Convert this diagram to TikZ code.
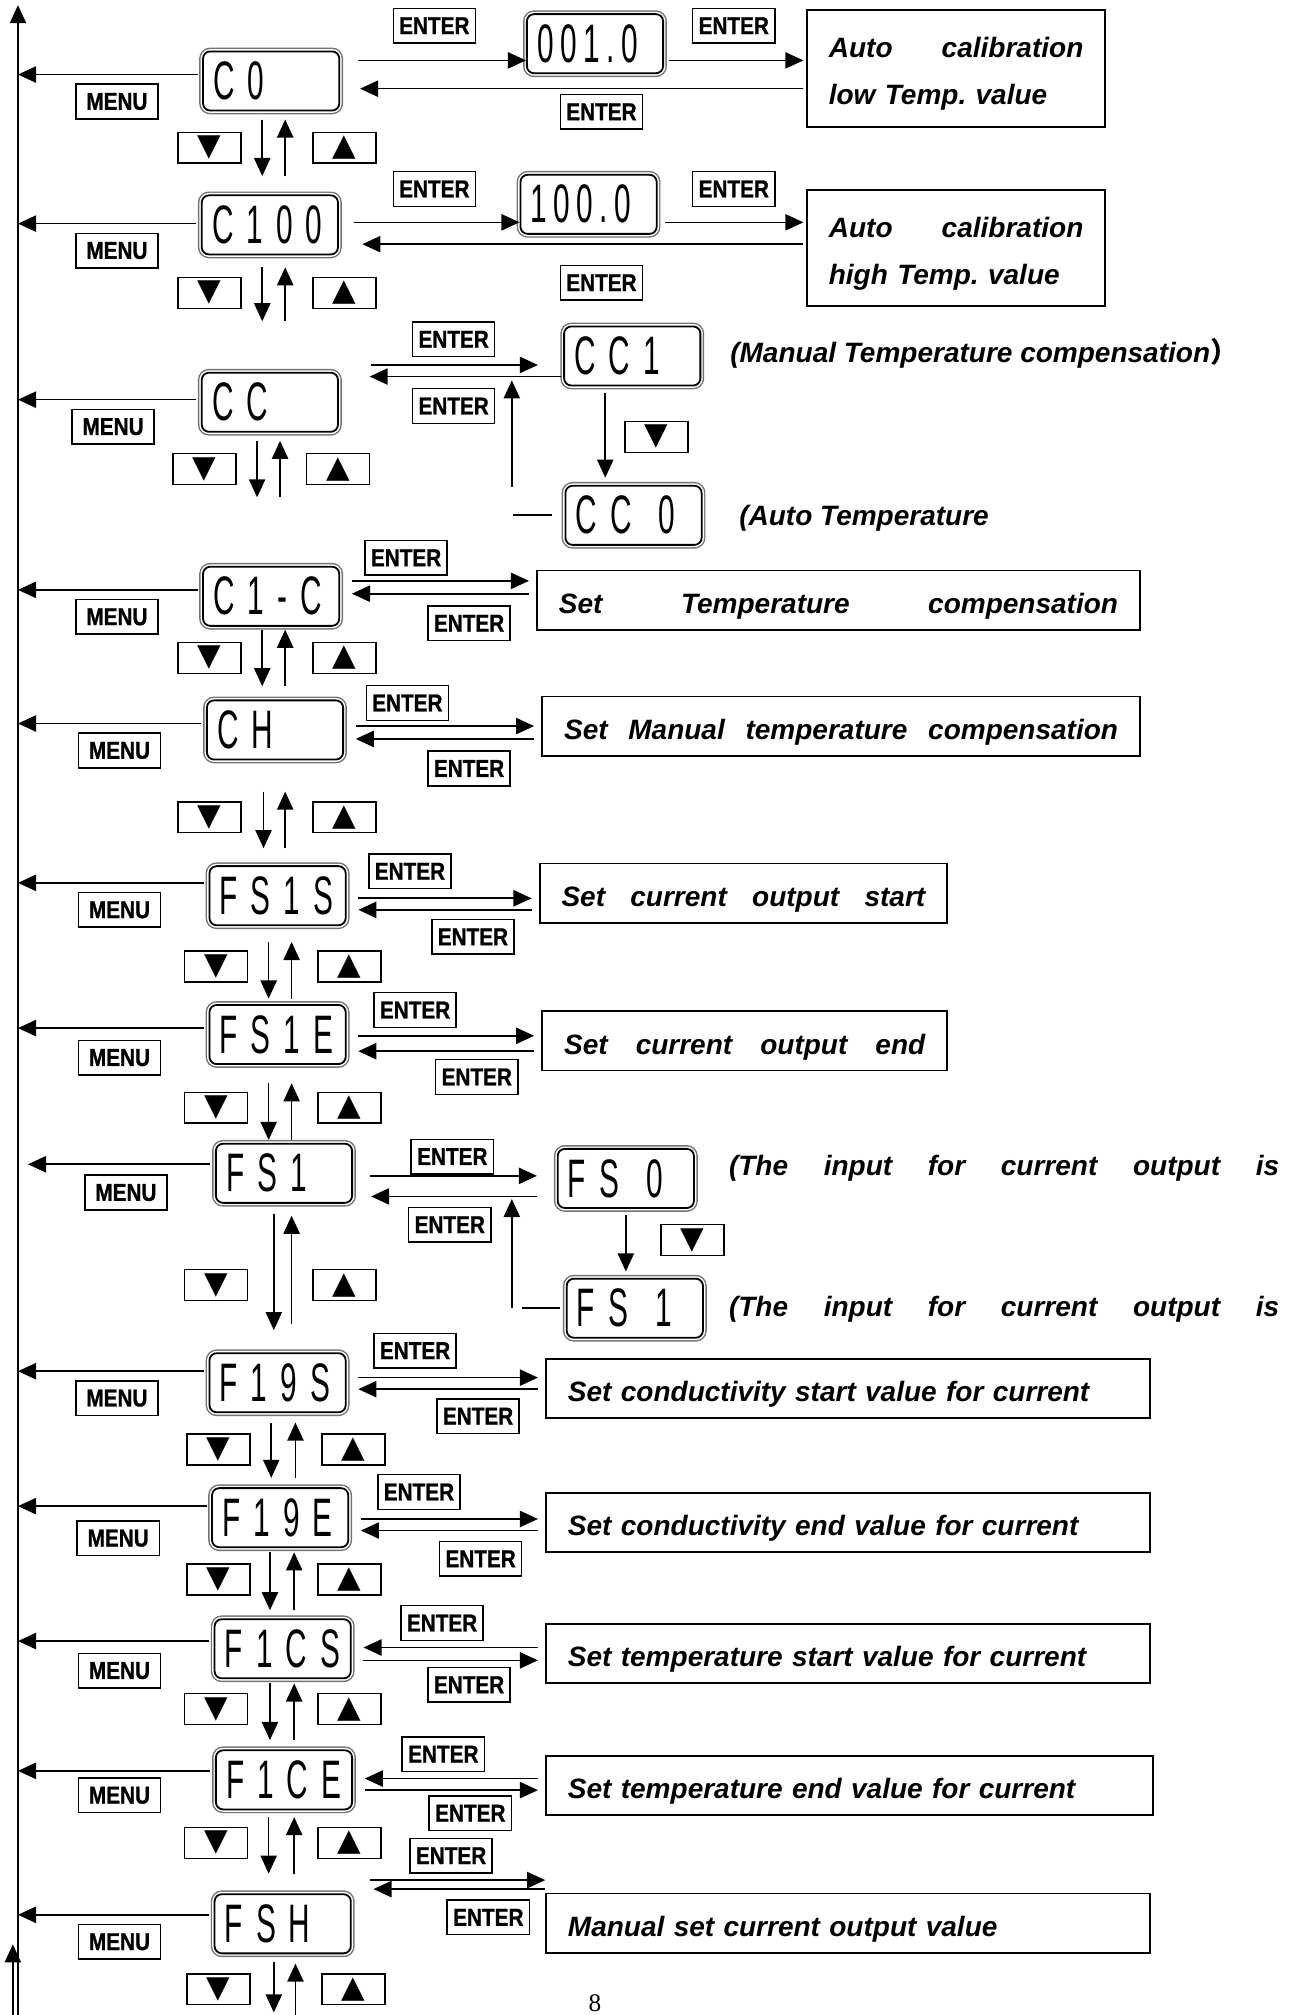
\documentclass[tikz,border=0pt]{standalone}
\usepackage{fontspec}
\usetikzlibrary{arrows.meta}
\newfontfamily\lcdfont[FakeStretch=0.55,LetterSpace=24]{Liberation Sans}
\newfontfamily\valfont[FakeStretch=0.55,LetterSpace=12]{Liberation Sans}
\newfontfamily\keyfont[FakeStretch=0.85,FakeBold=1]{Liberation Sans}
\newfontfamily\descfont{Liberation Sans}
\newfontfamily\symfont{DejaVu Sans}
\newfontfamily\cjkfont{Noto Sans CJK SC}
\newfontfamily\pagefont{Liberation Serif}
\newcommand\lift{\rule{0pt}{18pt}}

\begin{document}
\begin{tikzpicture}[x=0.025cm,y=-0.025cm,
  arr/.style={line width=0.9pt,-{Triangle[length=10pt,width=9pt]}},
  toright/.style={arr,shorten <=6.5pt,shorten >=4pt},
  toleft/.style={arr,shorten <=4pt,shorten >=6.5pt},
  tomenu/.style={arr,shorten <=2.5pt},
  lcdbox/.style={draw,line width=1pt,rounded corners=4pt,fill=white,
    preaction={draw=black!55,line width=4.2pt},
    preaction={draw=white,line width=2.6pt},
    minimum width=2.65cm,minimum height=1.15cm,text width=2.25cm,align=left,
    inner xsep=0.2cm,inner ysep=0pt,font=\lcdfont\fontsize{30}{30}\selectfont},
  keybox/.style={draw,line width=0.8pt,minimum width=1.6cm,minimum height=0.675cm,
    inner sep=0pt,font=\keyfont\bfseries\fontsize{13.5}{13.5}\selectfont},
  padbox/.style={draw,line width=0.8pt,minimum width=1.225cm,minimum height=0.6cm,
    inner sep=0pt,font=\symfont\fontsize{17}{17}\selectfont},
  descbox/.style={draw,line width=1pt,inner xsep=0.425cm,inner ysep=0pt,align=left,
    minimum height=1.15cm,font=\descfont\bfseries\itshape\fontsize{15.5}{26}\selectfont\frenchspacing},
  notetext/.style={anchor=west,inner sep=0pt,font=\descfont\bfseries\itshape\fontsize{15.5}{15.5}\selectfont}
]
\useasboundingbox (0,0) rectangle (1012,1568);
\coordinate (axis) at (14,4);
\draw[arr] (axis |- 0,1568) -- (axis);
\coordinate (foot) at (10,1568);
\draw[arr] (foot) -- ++(0,-55);

\node[lcdbox] (c0) at (211,63) {C0};
\node[keybox] (c0menu) at (91,79) {MENU};
\node[keybox] (c0in) at (338,20) {ENTER};
\node[lcdbox] (lo) at (463,34) {\valfont 001.0};
\node[keybox] (loin) at (571,20) {ENTER};
\node[keybox] (c0out) at (468,87) {ENTER};
\node[descbox,text width=4.95cm,minimum height=2.275cm] (lotxt) at (744,53)
  {\lift\hbox to 4.95cm{Auto\hfill calibration}\\low Temp. value};
\node[padbox] (c0dn) at (163,115) {▼};
\node[padbox] (c0up) at (268,115) {▲};
\draw[tomenu] (c0.west |- 0,58) -- (axis |- 0,58);
\draw[arr,shorten <=10pt] (c0.east |- 0,47) -- (lo.west |- 0,47);
\draw[arr,shorten <=2.5pt,shorten >=1.5pt] (lo.east |- 0,47) -- (lotxt.west |- 0,47);
\draw[arr,shorten <=1.5pt,shorten >=11pt] (lotxt.west |- 0,69) -- (c0.east |- 0,69);
\draw[arr] ([shift={(16,-22)}]c0dn.east) -- ++(0,44);
\draw[arr] ([shift={(-21,22)}]c0up.west) -- ++(0,-44);

\node[lcdbox] (c100) at (210,175) {C100};
\node[keybox] (c100menu) at (91,195) {MENU};
\node[keybox] (c100in) at (338,147) {ENTER};
\node[lcdbox] (hi) at (458,159) {\valfont 100.0};
\node[keybox] (hiin) at (571,147) {ENTER};
\node[keybox] (c100out) at (468,220) {ENTER};
\node[descbox,text width=4.95cm,minimum height=2.25cm] (hitxt) at (744,193)
  {\lift\hbox to 4.95cm{Auto\hfill calibration}\\high Temp. value};
\node[padbox] (c100dn) at (163,228) {▼};
\node[padbox] (c100up) at (268,228) {▲};
\draw[tomenu] (c100.west |- 0,174) -- (axis |- 0,174);
\draw[arr,shorten <=8.5pt] (c100.east |- 0,173) -- (hi.west |- 0,173);
\draw[arr,shorten <=4pt,shorten >=1.5pt] (hi.east |- 0,173) -- (hitxt.west |- 0,173);
\draw[arr,shorten <=1.5pt,shorten >=13pt] (hitxt.west |- 0,190) -- (c100.east |- 0,190);
\draw[arr] ([shift={(16,-20)}]c100dn.east) -- ++(0,42);
\draw[arr] ([shift={(-21,22)}]c100up.west) -- ++(0,-42);

\node[lcdbox] (cc) at (210,313) {CC};
\node[keybox] (ccmenu) at (88,332) {MENU};
\node[keybox] (ccin) at (353,264) {ENTER};
\node[keybox] (ccout) at (353,316) {ENTER};
\node[lcdbox] (cc1) at (492,277) {CC1};
\node[lcdbox] (cc0) at (493,401) {CC\enspace0};
\node[padbox] (cc1dn) at (511,340) {▼};
\node[notetext] (ccman) at (568,275) {(Manual Temperature compensation{\cjkfont ）}};
\node[notetext] (ccauto) at (575,403) {(Auto Temperature};
\node[padbox] (ccdn) at (159,365) {▼};
\node[padbox] (ccup) at (263,365) {▲};
\draw[tomenu] (cc.west |- 0,311) -- (axis |- 0,311);
\draw[arr,shorten <=18pt,shorten >=14pt] (cc.east |- 0,284) -- (cc1.west |- 0,284);
\draw[arr,shorten <=1pt,shorten >=17pt] (cc1.west |- 0,293) -- (cc.east |- 0,293);
\draw[arr,shorten <=3.5pt,shorten >=4pt] (cc1.south -| 471,0) -- (cc0.north -| 471,0);
\draw[line width=1pt] ([xshift=-7pt]cc0.west) -- ++(-30,0);
\draw[arr] ([shift={(-41,-22)}]cc0.west) -- ++(0,-83);
\draw[arr] ([shift={(16,-22)}]ccdn.east) -- ++(0,44);
\draw[arr] ([shift={(-20,22)}]ccup.west) -- ++(0,-44);

\node[lcdbox] (c1c) at (211,464) {C1-C};
\node[keybox] (c1cmenu) at (91,480) {MENU};
\node[keybox] (c1cin) at (316,434) {ENTER};
\node[keybox] (c1cout) at (365,485) {ENTER};
\node[descbox] (c1ctxt) at (652.5,467)
  {\lift\hbox to 10.875cm{Set\hfill Temperature\hfill compensation}};
\node[padbox] (c1cdn) at (163,512) {▼};
\node[padbox] (c1cup) at (268,512) {▲};
\draw[tomenu] (c1c.west |- 0,459) -- (axis |- 0,459);
\draw[toright] (c1c.east |- 0,452) -- (c1ctxt.west |- 0,452);
\draw[toleft] (c1ctxt.west |- 0,462) -- (c1c.east |- 0,462);
\draw[arr] ([shift={(16,-22)}]c1cdn.east) -- ++(0,44);
\draw[arr] ([shift={(-21,22)}]c1cup.west) -- ++(0,-44);

\node[lcdbox] (ch) at (214,568) {CH};
\node[keybox] (chmenu) at (93,584) {MENU};
\node[keybox] (chin) at (317,547) {ENTER};
\node[keybox] (chout) at (365,598) {ENTER};
\node[descbox] (chtxt) at (654.5,565)
  {\lift\hbox to 10.775cm{Set\hfill Manual\hfill temperature\hfill compensation}};
\node[padbox] (chdn) at (163,636) {▼};
\node[padbox] (chup) at (268,636) {▲};
\draw[tomenu] (ch.west |- 0,563) -- (axis |- 0,563);
\draw[toright] (ch.east |- 0,565) -- (chtxt.west |- 0,565);
\draw[toleft] (chtxt.west |- 0,575) -- (ch.east |- 0,575);
\draw[arr] ([shift={(17,-20)}]chdn.east) -- ++(0,44);
\draw[arr] ([shift={(-21,24)}]chup.west) -- ++(0,-44);

\node[lcdbox] (fs1s) at (216,697) {FS1S};
\node[keybox] (fs1smenu) at (93,708) {MENU};
\node[keybox] (fs1sin) at (319,678) {ENTER};
\node[keybox] (fs1sout) at (368,729) {ENTER};
\node[descbox] (fs1stxt) at (578.5,695)
  {\lift\hbox to 7.075cm{Set\hfill current\hfill output\hfill start}};
\node[padbox] (fs1sdn) at (168,752) {▼};
\node[padbox] (fs1sup) at (272,752) {▲};
\draw[tomenu] (fs1s.west |- 0,687) -- (axis |- 0,687);
\draw[toright] (fs1s.east |- 0,699) -- (fs1stxt.west |- 0,699);
\draw[toleft] (fs1stxt.west |- 0,708) -- (fs1s.east |- 0,708);
\draw[arr] ([shift={(16,-19)}]fs1sdn.east) -- ++(0,44);
\draw[arr] ([shift={(-20,25)}]fs1sup.west) -- ++(0,-44);

\node[lcdbox] (fs1e) at (216,805) {FS1E};
\node[keybox] (fs1emenu) at (93,823) {MENU};
\node[keybox] (fs1ein) at (323,786) {ENTER};
\node[keybox] (fs1eout) at (371,838) {ENTER};
\node[descbox] (fs1etxt) at (579.5,810)
  {\lift\hbox to 7.025cm{Set\hfill current\hfill output\hfill end}};
\node[padbox] (fs1edn) at (168,862) {▼};
\node[padbox] (fs1eup) at (272,862) {▲};
\draw[tomenu] (fs1e.west |- 0,800) -- (axis |- 0,800);
\draw[toright] (fs1e.east |- 0,806) -- (fs1etxt.west |- 0,806);
\draw[toleft] (fs1etxt.west |- 0,818) -- (fs1e.east |- 0,818);
\draw[arr] ([shift={(16,-19)}]fs1edn.east) -- ++(0,44);
\draw[arr] ([shift={(-20,25)}]fs1eup.west) -- ++(0,-44);

\node[lcdbox] (fs1) at (221,913) {FS1};
\node[keybox] (fs1menu) at (98,928) {MENU};
\node[keybox] (fs1in) at (352,900) {ENTER};
\node[keybox] (fs1out) at (350,953) {ENTER};
\node[lcdbox] (fs0) at (487,917) {FS\enspace0};
\node[lcdbox] (fsone) at (494,1018) {FS\enspace1};
\node[padbox] (fs0dn) at (539,965) {▼};
\node[notetext] (fs0note) at (567,909)
  {\hbox to 10.7cm{(The\hfill input\hfill for\hfill current\hfill output\hfill is}};
\node[notetext] (fsonenote) at (567,1019)
  {\hbox to 10.7cm{(The\hfill input\hfill for\hfill current\hfill output\hfill is}};
\node[padbox] (fs1dn) at (168,1000) {▼};
\node[padbox] (fs1up) at (268,1000) {▲};
\draw[tomenu,shorten >=5.5pt] (fs1.west |- 0,906) -- (axis |- 0,906);
\draw[arr,shorten <=9.5pt,shorten >=11pt] (fs1.east |- 0,915) -- (fs0.west |- 0,915);
\draw[arr,shorten <=11pt,shorten >=10pt] (fs0.west |- 0,931) -- (fs1.east |- 0,931);
\draw[arr,shorten <=3.5pt,shorten >=3.5pt] (fs0.south) -- (fs0.south |- fsone.north);
\draw[line width=1pt] ([xshift=-3pt]fsone.west) -- ++(-30,0);
\draw[arr] ([shift={(-42,0)}]fsone.west) -- ++(0,-85);
\draw[arr] ([shift={(20,-55)}]fs1dn.east) -- ++(0,90);
\draw[arr] ([shift={(-16,30)}]fs1up.west) -- ++(0,-84);

\node[lcdbox] (f19s) at (216,1076) {F19S};
\node[keybox] (f19smenu) at (91,1088) {MENU};
\node[keybox] (f19sin) at (323,1051) {ENTER};
\node[keybox] (f19sout) at (372,1102) {ENTER};
\node[descbox,text width=10.9cm] (f19stxt) at (660,1080.5)
  {\lift Set conductivity start value for current};
\node[padbox] (f19sdn) at (170,1128) {▼};
\node[padbox] (f19sup) at (275,1128) {▲};
\draw[tomenu] (f19s.west |- 0,1067) -- (axis |- 0,1067);
\draw[toright] (f19s.east |- 0,1072) -- (f19stxt.west |- 0,1072);
\draw[toleft] (f19stxt.west |- 0,1081) -- (f19s.east |- 0,1081);
\draw[arr] ([shift={(16,-21)}]f19sdn.east) -- ++(0,43);
\draw[arr] ([shift={(-20,22)}]f19sup.west) -- ++(0,-43);

\node[lcdbox] (f19e) at (218,1181) {F19E};
\node[keybox] (f19emenu) at (92,1197) {MENU};
\node[keybox] (f19ein) at (326,1161) {ENTER};
\node[keybox] (f19eout) at (374,1213) {ENTER};
\node[descbox,text width=10.9cm] (f19etxt) at (660,1184.5)
  {\lift Set conductivity end value for current};
\node[padbox] (f19edn) at (170,1229) {▼};
\node[padbox] (f19eup) at (272,1229) {▲};
\draw[tomenu] (f19e.west |- 0,1172) -- (axis |- 0,1172);
\draw[toright] (f19e.east |- 0,1182) -- (f19etxt.west |- 0,1182);
\draw[toleft] (f19etxt.west |- 0,1191) -- (f19e.east |- 0,1191);
\draw[arr] ([shift={(15,-21)}]f19edn.east) -- ++(0,45);
\draw[arr] ([shift={(-18,24)}]f19eup.west) -- ++(0,-45);

\node[lcdbox] (f1cs) at (220,1283) {F1CS};
\node[keybox] (f1csmenu) at (93,1300) {MENU};
\node[keybox] (f1csin) at (344,1263) {ENTER};
\node[keybox] (f1csout) at (365,1311) {ENTER};
\node[descbox,text width=10.9cm] (f1cstxt) at (660,1286.5)
  {\lift Set temperature start value for current};
\node[padbox] (f1csdn) at (168,1330) {▼};
\node[padbox] (f1csup) at (272,1330) {▲};
\draw[tomenu] (f1cs.west |- 0,1277) -- (axis |- 0,1277);
\draw[toleft] (f1cstxt.west |- 0,1282) -- (f1cs.east |- 0,1282);
\draw[toright] (f1cs.east |- 0,1292) -- (f1cstxt.west |- 0,1292);
\draw[arr] ([shift={(17,-20)}]f1csdn.east) -- ++(0,44);
\draw[arr] ([shift={(-18,24)}]f1csup.west) -- ++(0,-44);

\node[lcdbox] (f1ce) at (221,1385) {F1CE};
\node[keybox] (f1cemenu) at (93,1397) {MENU};
\node[keybox] (f1cein) at (345,1365) {ENTER};
\node[keybox] (f1ceout) at (366,1411) {ENTER};
\node[descbox,text width=10.95cm] (f1cetxt) at (661,1389.5)
  {\lift Set temperature end value for current};
\node[padbox] (f1cedn) at (168,1434) {▼};
\node[padbox] (f1ceup) at (272,1434) {▲};
\draw[tomenu] (f1ce.west |- 0,1378) -- (axis |- 0,1378);
\draw[toleft] (f1cetxt.west |- 0,1384) -- (f1ce.east |- 0,1384);
\draw[toright] (f1ce.east |- 0,1393) -- (f1cetxt.west |- 0,1393);
\draw[arr] ([shift={(16,-20)}]f1cedn.east) -- ++(0,44);
\draw[arr] ([shift={(-18,24)}]f1ceup.west) -- ++(0,-44);

\node[lcdbox] (fsh) at (220,1497) {FSH};
\node[keybox] (fshmenu) at (93,1511) {MENU};
\node[keybox] (fshin) at (351,1444) {ENTER};
\node[keybox] (fshout) at (380,1492) {ENTER};
\node[descbox,text width=10.9cm] (fshtxt) at (660,1496.5)
  {\lift Manual set current output value};
\node[padbox] (fshdn) at (170,1548) {▼};
\node[padbox] (fshup) at (275,1548) {▲};
\draw[tomenu] (fsh.west |- 0,1490) -- (axis |- 0,1490);
\draw[arr,shorten <=10pt] (fsh.east |- 0,1463) -- (fshtxt.west |- 0,1463);
\draw[arr,shorten >=12pt] (fshtxt.west |- 0,1470) -- (fsh.east |- 0,1470);
\draw[arr] ([shift={(18,-21)}]fshdn.east) -- ++(0,39);
\draw[arr] ([shift={(-20,20)}]fshup.west) -- ++(0,-40);

\node[font=\pagefont\fontsize{14}{14}\selectfont] (page) at (463,1559) {8};
\end{tikzpicture}
\end{document}
